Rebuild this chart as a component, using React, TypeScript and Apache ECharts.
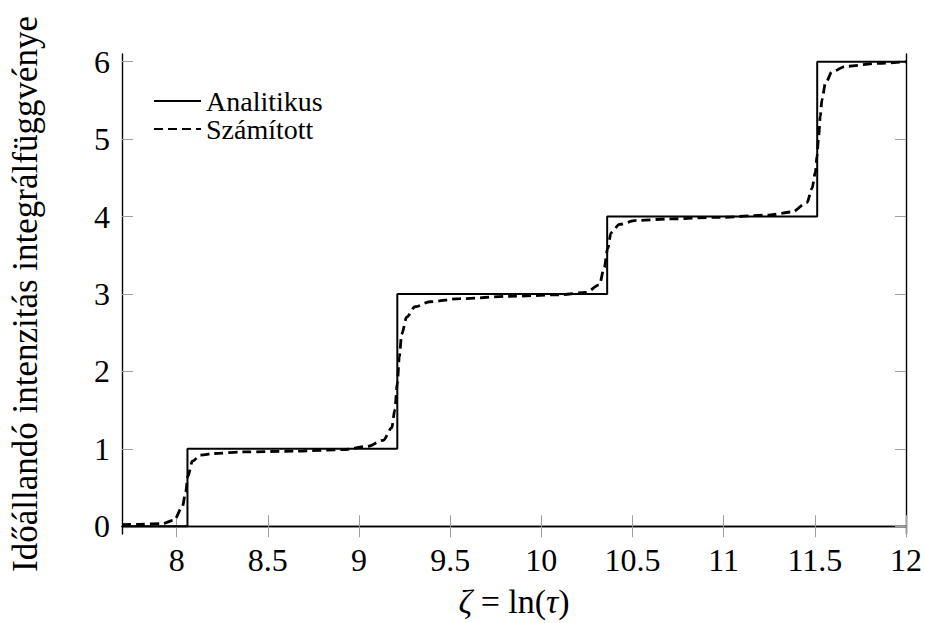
import React, { useEffect, useRef } from "react";
import * as echarts from "echarts";

// Analytic (step) solution: x positions of the jumps and the level after each point
const analyticX = [7.7, 8.059, 9.21, 10.361, 11.513, 12];
const analyticY = [0, 1, 3, 4, 6, 6];

// Computed (smooth) solution
const computedX = [
  7.7, 7.8, 7.922, 7.985, 8.031, 8.049, 8.062, 8.086, 8.131, 8.204, 8.368, 8.641,
  8.915, 9.043, 9.133, 9.179, 9.197, 9.21, 9.221, 9.234, 9.261, 9.307, 9.389,
  9.553, 9.826, 10.099, 10.245, 10.318, 10.345, 10.364, 10.382, 10.428, 10.519,
  10.701, 10.974, 11.248, 11.375, 11.457, 11.484, 11.503, 11.512, 11.521, 11.53,
  11.539, 11.558, 11.594, 11.667, 11.849, 12.0,
];
const computedY = [
  0.02, 0.025, 0.035, 0.077, 0.25, 0.44, 0.65, 0.84, 0.92, 0.94, 0.96, 0.97,
  0.99, 1.03, 1.11, 1.27, 1.51, 1.85, 2.19, 2.48, 2.7, 2.835, 2.9,
  2.94, 2.97, 2.99, 3.02, 3.12, 3.34, 3.59, 3.79, 3.9, 3.95,
  3.97, 3.99, 4.02, 4.06, 4.18, 4.36, 4.57, 4.79, 5.04, 5.3,
  5.51, 5.72, 5.87, 5.94, 5.98, 6.0,
];

const xTicks = [8, 8.5, 9, 9.5, 10, 10.5, 11, 11.5, 12];
const yTicks = [0, 1, 2, 3, 4, 5, 6];

const seriesNames = ["Analitikus", "Számított"];
const xTitle = "{i|ζ} = ln({i|τ})";
const yTitle = "Időállandó intenzitás integrálfüggvénye";

const FONT = "'Liberation Serif', 'DejaVu Serif', serif";

export default function App() {
  const ref = useRef<HTMLDivElement>(null);

  useEffect(() => {
    if (!ref.current) return;
    const chart = echarts.init(ref.current, undefined, { renderer: "svg" });

    const fmt = (v: number) => String(v);
    const tickStyle = { show: true, inside: true, length: 11, lineStyle: { color: "#a0a0a0", width: 1 } };
    const lineStyle = { show: true, lineStyle: { color: "#000", width: 1.4 } };

    chart.setOption({
      animation: false,
      backgroundColor: "#fff",
      textStyle: { fontFamily: FONT },
      grid: { left: 121, right: 17, top: 54, bottom: 84, containLabel: false },
      legend: {
        show: true,
        orient: "vertical",
        left: 153,
        top: 87,
        padding: 0,
        itemWidth: 47,
        itemHeight: 14,
        itemGap: 0,
        data: seriesNames,
        itemStyle: { opacity: 0 },
        textStyle: { fontFamily: FONT, fontSize: 28, color: "#000" },
      },
      xAxis: [
        {
          type: "value",
          min: 7.7,
          max: 12,
          position: "bottom",
          splitLine: { show: false },
          axisLine: lineStyle,
          axisTick: { ...tickStyle, customValues: xTicks },
          axisLabel: {
            customValues: xTicks,
            formatter: fmt,
            color: "#000",
            fontSize: 32,
            fontFamily: FONT,
            margin: 10,
          },
          name: xTitle,
          nameLocation: "middle",
          nameGap: 50,
          nameTextStyle: {
            fontFamily: FONT,
            fontSize: 34,
            color: "#000",
            rich: { i: { fontStyle: "italic", fontFamily: FONT, fontSize: 34, color: "#000" } },
          },
        },
        {
          type: "value",
          min: 7.7,
          max: 12,
          position: "top",
          splitLine: { show: false },
          axisLine: lineStyle,
          axisTick: { ...tickStyle, customValues: xTicks },
          axisLabel: { show: false },
        },
      ],
      yAxis: [
        {
          type: "value",
          min: -0.1,
          max: 6.1,
          position: "left",
          splitLine: { show: false },
          axisLine: lineStyle,
          axisTick: { ...tickStyle, customValues: yTicks },
          axisLabel: {
            customValues: yTicks,
            formatter: fmt,
            color: "#000",
            fontSize: 32,
            fontFamily: FONT,
            margin: 12,
          },
          name: yTitle,
          nameLocation: "middle",
          nameGap: 79,
          nameRotate: 90,
          nameTextStyle: { fontFamily: FONT, fontSize: 35, color: "#000" },
        },
        {
          type: "value",
          min: -0.1,
          max: 6.1,
          position: "right",
          splitLine: { show: false },
          axisLine: lineStyle,
          axisTick: { ...tickStyle, customValues: yTicks },
          axisLabel: { show: false },
        },
      ],
      series: [
        {
          name: seriesNames[0],
          type: "line",
          step: "end",
          symbol: "none",
          data: analyticX.map((x, i) => [x, analyticY[i]]),
          lineStyle: { color: "#000", width: 2, type: "solid" },
          itemStyle: { color: "#000" },
          z: 3,
        },
        {
          name: seriesNames[1],
          type: "line",
          symbol: "none",
          smooth: 0.3,
          smoothMonotone: "x",
          data: computedX.map((x, i) => [x, computedY[i]]),
          lineStyle: { color: "#000", width: 2.8, type: [9, 5] },
          itemStyle: { color: "#000" },
          z: 4,
        },
      ],
    });

    return () => chart.dispose();
  }, []);

  return (
    <div
      ref={ref}
      style={{ position: "absolute", left: 0, top: 0, width: 925, height: 623 }}
    />
  );
}
